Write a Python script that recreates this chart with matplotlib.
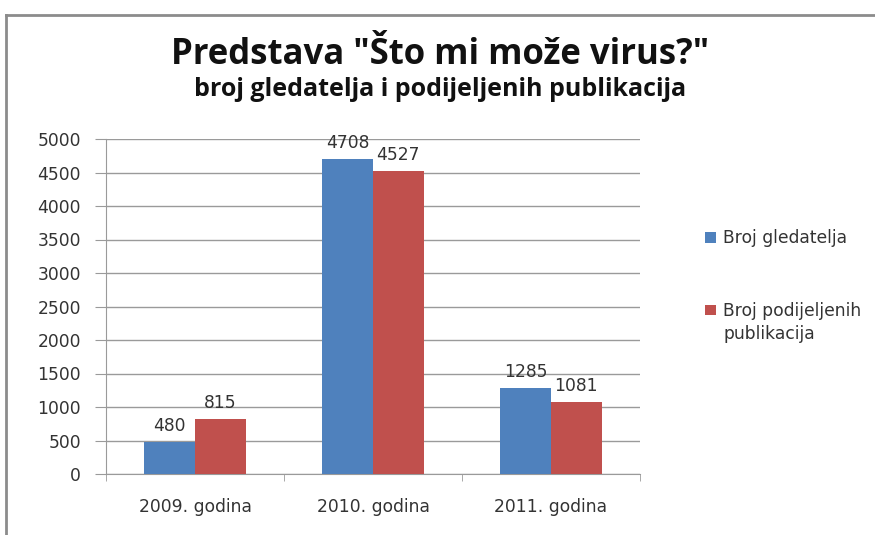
import matplotlib.pyplot as plt
from matplotlib.lines import Line2D
import numpy as np

categories = ['2009. godina', '2010. godina', '2011. godina']
gledatelji = [480, 4708, 1285]
publikacije = [815, 4527, 1081]
series_names = ['Broj gledatelja', 'Broj podijeljenih']
label_wrap = 'publikacija'
yticks = [0, 500, 1000, 1500, 2000, 2500, 3000, 3500, 4000, 4500, 5000]

blue = '#4F81BD'
red = '#C0504D'
txt_font = 'DejaVu Sans'
fs = 12.3

fig = plt.figure(figsize=(8.75, 5.35), dpi=100)
ax = fig.add_axes([106 / 875, 1 - 474 / 535, (640 - 106) / 875, (474 - 139) / 535])

x = np.arange(len(categories))
w = 0.285
b1 = ax.bar(x - w / 2, gledatelji, w, color=blue, label=series_names[0], zorder=3)
b2 = ax.bar(x + w / 2, publikacije, w, color=red, label=series_names[1], zorder=3)

for bars in (b1, b2):
    ax.bar_label(bars, padding=5, fontsize=fs, color='#333333', family=txt_font)

ax.set_xlim(-0.5, 2.5)
ax.set_ylim(0, 5000)
ax.set_yticks(yticks)
ax.set_yticklabels([str(v) for v in yticks], fontsize=fs, color='#333333', family=txt_font)
ax.yaxis.grid(True, color='#9a9a9a', linewidth=1.0, zorder=0)
ax.tick_params(axis='y', length=8, color='#9a9a9a', pad=10)

ax.set_xticks(x)
ax.set_xticklabels(categories, fontsize=fs, color='#333333', family=txt_font)
ax.set_xticks([-0.5, 0.5, 1.5, 2.5], minor=True)
ax.tick_params(axis='x', which='major', length=0, pad=17)
ax.tick_params(axis='x', which='minor', length=5, color='#9a9a9a')

for s in ['top', 'right']:
    ax.spines[s].set_visible(False)
for s in ['left', 'bottom']:
    ax.spines[s].set_color('#9a9a9a')

fig.text(0.503, 1 - 55 / 535, 'Predstava "Što mi može virus?"', ha='center', va='center',
         fontsize=25, fontweight='bold', family='Open Sans', color='#111111')
fig.text(0.503, 1 - 90 / 535, 'broj gledatelja i podijeljenih publikacija', ha='center', va='center',
         fontsize=18, fontweight='bold', family='Open Sans', color='#111111')

leg = fig.legend(handles=[b1, b2], loc='upper left', bbox_to_anchor=(690 / 875, 1 - 214 / 535),
                 frameon=False, handlelength=0.6, handleheight=0.6,
                 handletextpad=0.45, labelspacing=3.2, prop={'family': txt_font, 'size': fs})
for t in leg.get_texts():
    t.set_color('#333333')

# second line of the wrapped legend label
fig.canvas.draw()
bb = leg.get_texts()[1].get_window_extent()
fig.text(bb.x0 / fig.bbox.width, (bb.y0 - 23) / fig.bbox.height, label_wrap,
         fontsize=fs, family=txt_font, color='#333333', ha='left', va='bottom')

# chart frame
fig.add_artist(Line2D([6 / 875, 6 / 875], [0, 1 - 15 / 535], transform=fig.transFigure,
                      color='#8c8c8c', linewidth=2))
fig.add_artist(Line2D([6 / 875, 1], [1 - 15 / 535, 1 - 15 / 535], transform=fig.transFigure,
                      color='#8c8c8c', linewidth=2))

fig.savefig('out.png', dpi=100)
